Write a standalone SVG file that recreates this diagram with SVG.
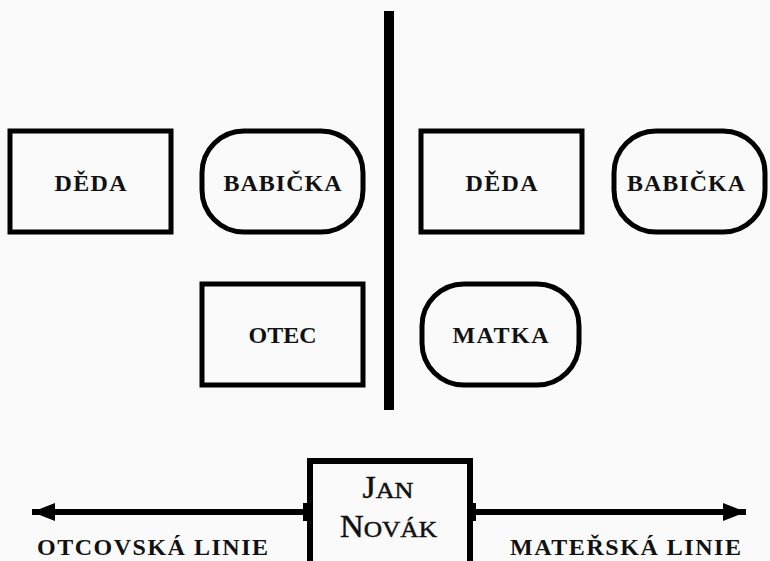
<svg xmlns="http://www.w3.org/2000/svg" width="770" height="561" viewBox="0 0 770 561">
<defs>
<style>
.box{fill:none;stroke:#000;stroke-width:5}
.lbl{font-family:"Liberation Serif","Times New Roman",serif;font-weight:bold;font-size:24px;fill:#111;text-anchor:middle}
.name{font-family:"Liberation Serif","Times New Roman",serif;font-size:31px;fill:#111;stroke:#111;stroke-width:0.5;text-anchor:middle}
.line{stroke:#000;stroke-width:6;fill:none}
</style>
<marker id="ah" markerWidth="24" markerHeight="20" refX="23" refY="10" orient="auto" markerUnits="userSpaceOnUse">
<path d="M0,1 L23,10 L0,19 Z" fill="#000"/>
</marker>
</defs>
<rect width="770" height="561" fill="#fafafa"/>
<g id="divider"><rect x="384" y="11" width="10" height="399" fill="#000"/></g>
<g id="deda-otcovsky"><rect class="box" x="10" y="131" width="161" height="101"/><text class="lbl" x="90.5" y="191" textLength="72" lengthAdjust="spacing">DĚDA</text></g>
<g id="babicka-otcovska"><rect class="box" x="202" y="131" width="161" height="101" rx="42" ry="42"/><text class="lbl" x="282.5" y="191" textLength="118" lengthAdjust="spacing">BABIČKA</text></g>
<g id="deda-materisky"><rect class="box" x="421" y="131" width="161" height="101"/><text class="lbl" x="501.5" y="191" textLength="72" lengthAdjust="spacing">DĚDA</text></g>
<g id="babicka-materska"><rect class="box" x="614" y="131" width="151" height="101" rx="42" ry="42"/><text class="lbl" x="686" y="191" textLength="118" lengthAdjust="spacing">BABIČKA</text></g>
<g id="otec"><rect class="box" x="202" y="284" width="161" height="101"/><text class="lbl" x="282.5" y="343" textLength="68" lengthAdjust="spacing">OTEC</text></g>
<g id="matka"><rect class="box" x="422" y="284" width="157" height="101" rx="42" ry="42"/><text class="lbl" x="500.5" y="343" textLength="96" lengthAdjust="spacing">MATKA</text></g>
<g id="jan-novak"><rect x="310" y="461" width="160" height="110" fill="none" stroke="#000" stroke-width="6"/>
<text class="name" x="388" y="498" textLength="51" lengthAdjust="spacingAndGlyphs">J<tspan font-size="24">AN</tspan></text>
<text class="name" x="388.5" y="537" textLength="97" lengthAdjust="spacingAndGlyphs">N<tspan font-size="24">OVÁK</tspan></text></g>
<g id="connectors">
<line class="line" x1="306" y1="512" x2="32" y2="512" marker-end="url(#ah)"/>
<line class="line" x1="473" y1="512" x2="746" y2="512" marker-end="url(#ah)"/>
<rect x="303" y="503" width="5" height="18" fill="#000"/>
<rect x="471" y="503" width="5" height="18" fill="#000"/>
</g>
<g id="labels">
<text class="lbl" x="152.5" y="555" textLength="231" lengthAdjust="spacing">OTCOVSKÁ LINIE</text>
<text class="lbl" x="625.5" y="555" textLength="231" lengthAdjust="spacing">MATEŘSKÁ LINIE</text>
</g>
</svg>
